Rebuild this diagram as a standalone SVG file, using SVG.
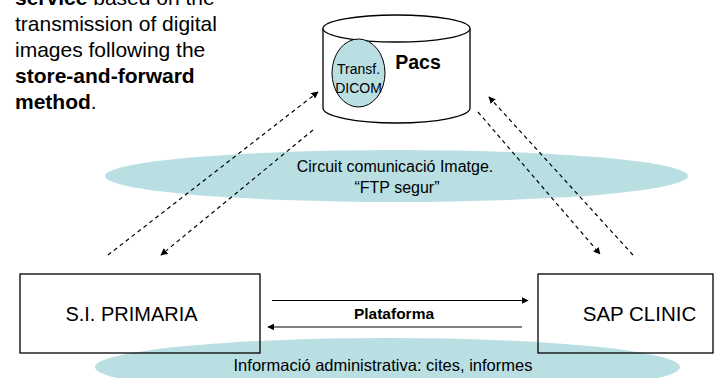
<svg xmlns="http://www.w3.org/2000/svg" width="714" height="378" viewBox="0 0 714 378">
<defs>
<style>
text{font-family:"Liberation Sans",Arial,sans-serif;fill:#000}
.teal{fill:#B9DFE3;stroke:none}
.box{fill:#fff;stroke:#000;stroke-width:1.3}
.frame{fill:none;stroke:#000;stroke-width:1.3}
.dash{fill:none;stroke:#000;stroke-width:1.2;stroke-dasharray:4 3.5}
.solid{fill:none;stroke:#000;stroke-width:1.2}
.intro{font-size:21px}
</style>
<marker id="ah" viewBox="0 0 10 10" refX="9" refY="5" markerWidth="7" markerHeight="7" orient="auto" markerUnits="userSpaceOnUse">
<path d="M0,0 L10,5 L0,10 z" fill="#000"/>
</marker>
</defs>
<rect width="714" height="378" fill="#fff"/>

<g id="intro-text" class="intro">
<text x="15" y="5"><tspan font-weight="bold">service</tspan> based on the</text>
<text x="15" y="31">transmission of digital</text>
<text x="15" y="57">images following the</text>
<text x="15" y="83" font-weight="bold">store-and-forward</text>
<text x="15" y="109"><tspan font-weight="bold">method</tspan>.</text>
</g>

<g id="circuit-imatge">
<ellipse class="teal" cx="396.5" cy="176" rx="291.5" ry="26"/>
<text x="395" y="172" font-size="16" text-anchor="middle">Circuit comunicació Imatge.</text>
<text x="397" y="193" font-size="16" text-anchor="middle">“FTP segur”</text>
</g>

<g id="info-admin">
<ellipse class="teal" cx="387.5" cy="367" rx="292.5" ry="29"/>
<text x="383" y="371" font-size="16.5" text-anchor="middle">Informació administrativa: cites, informes</text>
</g>

<g id="pacs">
<path class="box" d="M323,28.5 L323,108 A73.5,15 0 0 0 470,108 L470,28.5"/>
<ellipse class="box" cx="396.5" cy="28.5" rx="73.5" ry="13.5"/>
<ellipse cx="358.5" cy="73" rx="26.5" ry="34" fill="#B9DFE3" stroke="#000" stroke-width="1"/>
<text x="358.5" y="74" font-size="14" text-anchor="middle">Transf.</text>
<text x="358.5" y="93" font-size="14" text-anchor="middle">DICOM</text>
<text x="418" y="69" font-size="19.5" font-weight="bold" text-anchor="middle">Pacs</text>
</g>

<g id="si-primaria">
<rect class="frame" x="20" y="274" width="240" height="79"/>
<text x="131.5" y="321" font-size="20" text-anchor="middle">S.I. PRIMARIA</text>
</g>

<g id="sap-clinic">
<rect class="frame" x="538" y="274" width="175" height="79"/>
<text x="639.5" y="321" font-size="20.5" text-anchor="middle">SAP CLINIC</text>
</g>

<g id="connectors">
<line class="dash" x1="108" y1="255" x2="318" y2="92" marker-end="url(#ah)"/>
<line class="dash" x1="313" y1="130" x2="161" y2="255" marker-end="url(#ah)"/>
<line class="dash" x1="478" y1="112" x2="600" y2="254" marker-end="url(#ah)"/>
<line class="dash" x1="633" y1="255" x2="489" y2="97" marker-end="url(#ah)"/>
<line class="solid" x1="272" y1="300.5" x2="528" y2="300.5" marker-end="url(#ah)"/>
<line class="solid" x1="522" y1="327" x2="268" y2="327" marker-end="url(#ah)"/>
<text x="394" y="319" font-size="15.5" font-weight="bold" text-anchor="middle">Plataforma</text>
</g>
</svg>
